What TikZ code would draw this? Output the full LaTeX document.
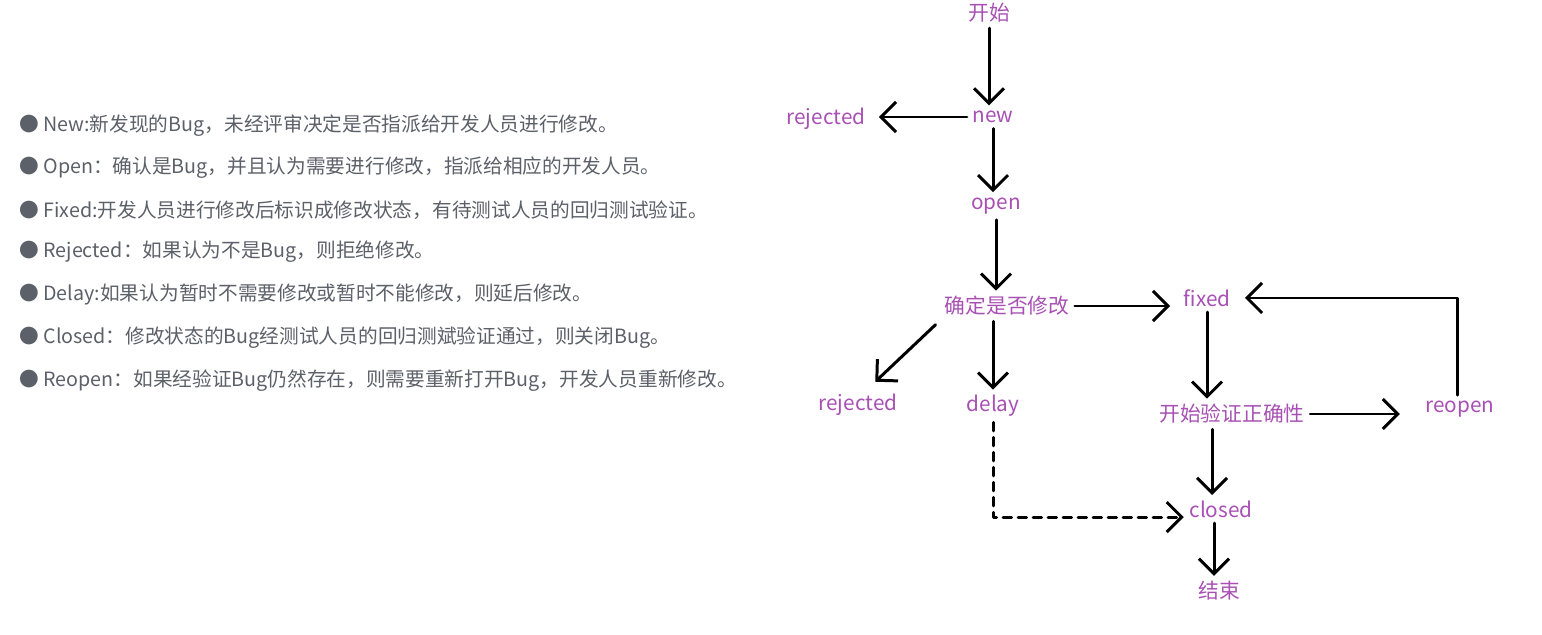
\documentclass[tikz,border=0pt]{standalone}
\usepackage{fontspec}
\setmainfont{Noto Sans CJK SC}
\usetikzlibrary{arrows.meta}
\definecolor{statecol}{RGB}{168,80,180}
\definecolor{itemcol}{RGB}{92,96,104}
\tikzset{
  state/.style={text=statecol, font=\fontsize{11.8}{14}\selectfont, inner sep=3pt},
  item/.style={anchor=west, text=itemcol, font=\fontsize{11.2}{13}\selectfont, inner sep=0pt},
  flow/.style={line width=1.7pt, line cap=round, line join=round,
      -{Straight Barb[length=3mm, width=6mm, line width=1.7pt]}},
  delayed/.style={flow, dash pattern=on 1.7mm off 1.3mm},
}

\begin{document}
\begin{tikzpicture}[x=0.2mm, y=-0.2mm]
  \fill[white] (0,0) rectangle (1542,635);
  \useasboundingbox (0,0) rectangle (1542,635);
  % legend
  \node[item] (itemnew)    at (19,126) {● New:新发现的Bug，未经评审决定是否指派给开发人员进行修改。};
  \node[item] (itemopen)   at (19,168) {● Open：确认是Bug，并且认为需要进行修改，指派给相应的开发人员。};
  \node[item] (itemfixed)  at (19,210) {● Fixed:开发人员进行修改后标识成修改状态，有待测试人员的回归测试验证。};
  \node[item] (itemrej)    at (19,252) {● Rejected：如果认为不是Bug，则拒绝修改。};
  \node[item] (itemdelay)  at (19,295) {● Delay:如果认为暂时不需要修改或暂时不能修改，则延后修改。};
  \node[item] (itemclosed) at (19,338) {● Closed：修改状态的Bug经测试人员的回归测斌验证通过，则关闭Bug。};
  \node[item] (itemreopen) at (19,381) {● Reopen：如果经验证Bug仍然存在，则需要重新打开Bug，开发人员重新修改。};
  % states
  \node[state] (begin)  at (989,13)   {开始};
  \node[state] (new)    at (993,117)  {new};
  \node[state] (rejA)   at (826,119)  {rejected};
  \node[state] (open)   at (996,206)  {open};
  \node[state] (decide) at (1007,306) {确定是否修改};
  \node[state] (fixed)  at (1207,298) {fixed};
  \node[state] (rejB)   at (858,405)  {rejected};
  \node[state] (delay)  at (993,406)  {delay};
  \node[state] (verify) at (1232,414) {开始验证正确性};
  \node[state] (reopen) at (1460,409) {reopen};
  \node[state] (closed) at (1221,509) {closed};
  \node[state] (finish) at (1219,591) {结束};
  % transitions
  \draw[flow] (begin.south) -- (begin.south |- new.north);
  \draw[flow, shorten >=1.6mm] (new.west) -- (new.west -| rejA.east);
  \draw[flow] (new.south) -- (new.south |- open.north);
  \draw[flow] (open.south) -- (open.south |- decide.north);
  \draw[flow, shorten >=1.6mm] (decide.east) -- (decide.east -| fixed.west);
  \draw[flow, shorten <=1mm, shorten >=2mm] (decide.south west) -- ([xshift=2mm]rejB.north);
  \draw[flow] (delay.north |- decide.south) -- (delay.north);
  \draw[flow] (fixed.south) -- (fixed.south |- verify.north);
  \draw[flow, shorten >=4mm] (verify.east) -- (verify.east -| reopen.west);
  \draw[flow, shorten >=1.8mm] ([xshift=-0.6mm]reopen.north) |- (fixed.east);
  \draw[flow] ([xshift=-1.8mm]closed.north |- verify.south) -- ([xshift=-1.8mm]closed.north);
  \draw[delayed] (delay.south) |- (closed.base west);
  \draw[flow] ([xshift=-1mm]finish.north |- closed.south) -- ([xshift=-1mm]finish.north);
\end{tikzpicture}
\end{document}
